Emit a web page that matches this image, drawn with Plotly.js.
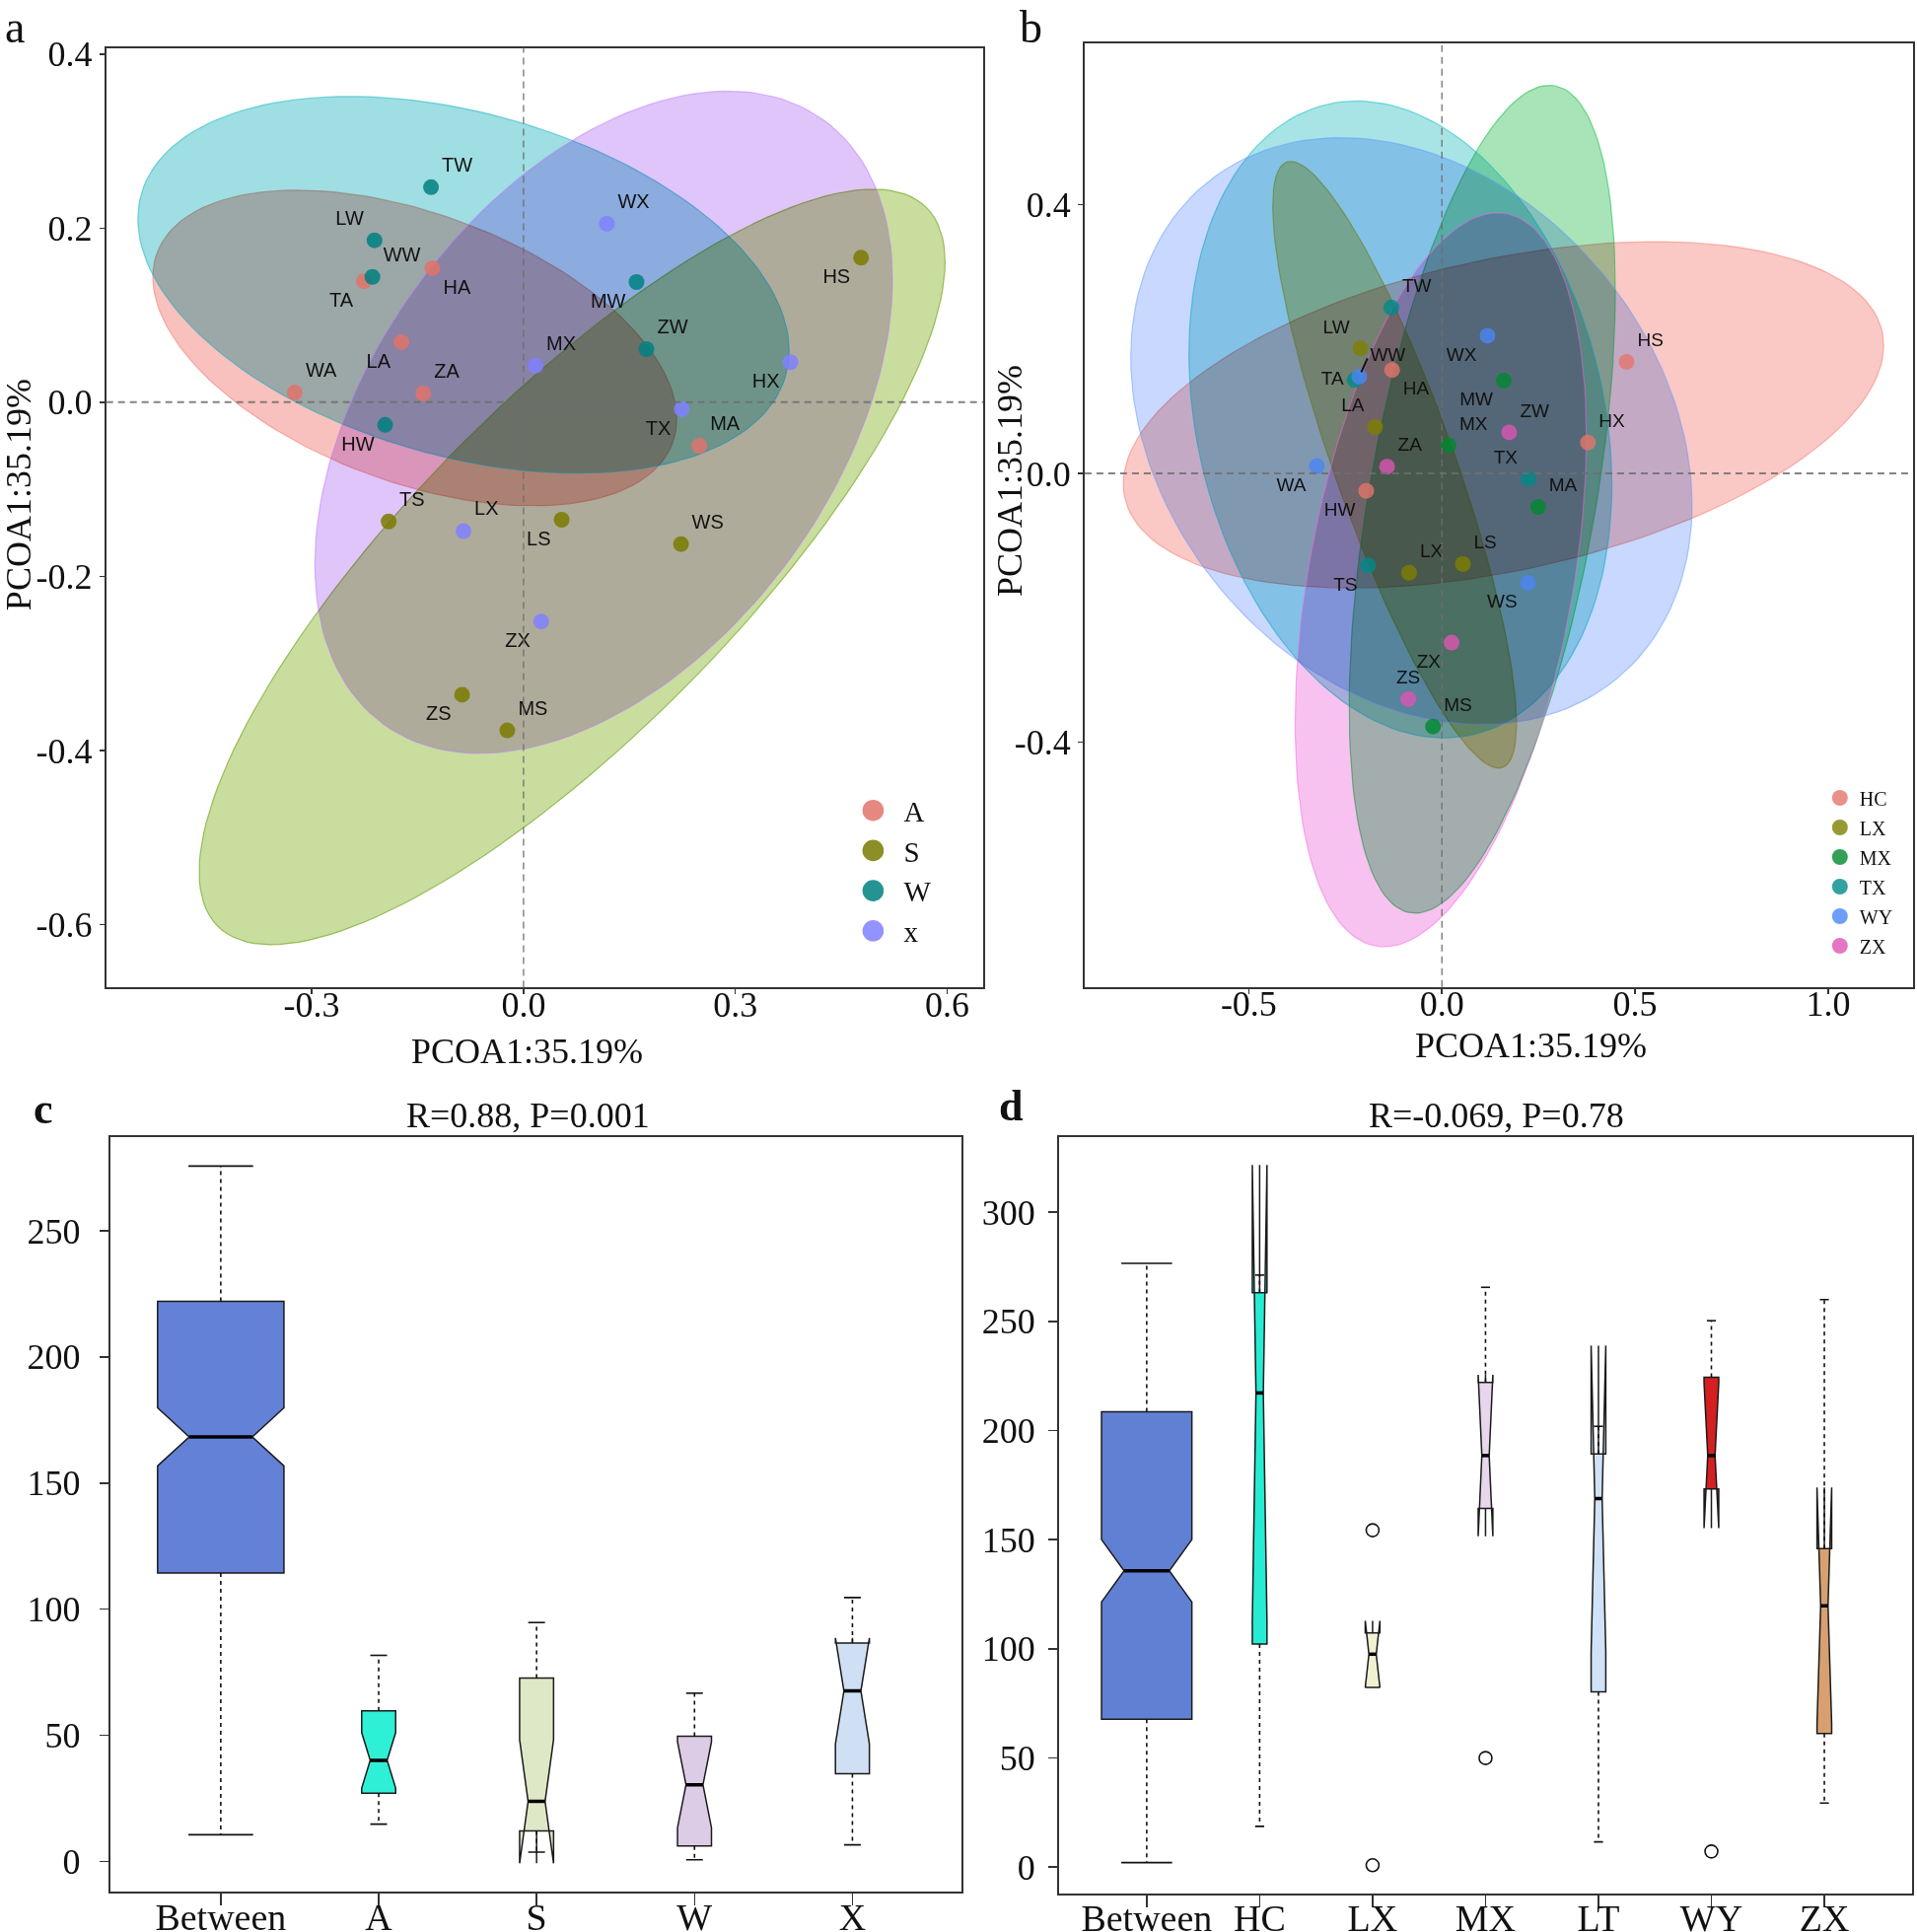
<!DOCTYPE html>
<html><head><meta charset="utf-8">
<script src="https://cdn.plot.ly/plotly-3.0.1.min.js"></script>
<style>body{margin:0;background:#fff}#chart{width:1944px;height:1959px}</style>
</head><body><div id="chart"></div>
<script>
// ---------------- DATA ----------------
// PCoA sample coordinates (shared by panels a and b)
const sampleNames = ['TW','WX','LW','WW','TA','HA','HS','MW','LA','ZW','MX','HX','WA','ZA','TX','HW','MA','TS','LX','LS','WS','ZX','ZS','MS'];
const pc1 = [-0.131,0.118,-0.211,-0.214,-0.226,-0.129,0.478,0.160,-0.173,0.174,0.017,0.378,-0.324,-0.142,0.224,-0.196,0.249,-0.191,-0.085,0.054,0.223,0.025,-0.087,-0.023];
const pc2 = [0.247,0.205,0.186,0.144,0.139,0.154,0.166,0.138,0.069,0.061,0.042,0.046,0.011,0.010,-0.008,-0.026,-0.050,-0.137,-0.148,-0.135,-0.163,-0.252,-0.336,-0.377];
const groupOfSampleA = ['W','X','W','W','A','A','S','W','A','W','X','X','A','A','X','W','A','S','X','S','S','X','S','S'];
const groupOfSampleB = ['TX','WY','LX','WY','TX','HC','HC','MX','LX','ZX','MX','HC','WY','ZX','TX','HC','MX','TX','LX','LX','WY','ZX','ZX','MX'];

// panel a groups and their ellipses (centre, half-extent x / y, correlation)
const groupsA = ['A','S','W','X'];
const groupLabelsA = ['A','S','W','x'];
const ellA_cx = [-0.154, 0.0688, -0.085, 0.1135];
const ellA_cy = [0.0623, -0.1892, 0.1349, -0.023];
const ellA_wx = [0.371, 0.5282, 0.4612, 0.409];
const ellA_wy = [0.1813, 0.434, 0.2164, 0.3804];
const ellA_r  = [-0.45, 0.807, -0.35, 0.43];

// panel b groups and their ellipses
const groupsB = ['HC','LX','MX','TX','WY','ZX'];
const groupLabelsB = ['HC','LX','MX','TX','WY','ZX'];
const ellB_cx = [0.1594, -0.1225, 0.1045, -0.1075, -0.079, -0.003];
const ellB_cy = [0.0872, 0.0128, -0.0385, 0.0803, 0.063, -0.1585];
const ellB_wx = [0.9844, 0.3155, 0.3445, 0.5475, 0.7266, 0.377];
const ellB_wy = [0.2578, 0.4518, 0.6165, 0.4743, 0.437, 0.5465];
const ellB_r  = [0.40, -0.853, 0.504, -0.206, -0.252, 0.39];

// tick labels
const aXTicks = [-0.3, 0, 0.3, 0.6], aXText = ['-0.3','0.0','0.3','0.6'];
const aYTicks = [-0.6,-0.4,-0.2,0,0.2,0.4], aYText = ['-0.6','-0.4','-0.2','0.0','0.2','0.4'];
const bXTicks = [-0.5, 0, 0.5, 1.0], bXText = ['-0.5','0.0','0.5','1.0'];
const bYTicks = [-0.4, 0, 0.4], bYText = ['-0.4','0.0','0.4'];

// panel c: ANOSIM distance ranks
const catsC = ['Between','A','S','W','X'];
const c_q1  = [114.3, 27.1, 12.1, 6.2, 34.8];
const c_med = [168.3, 40.1, 23.8, 30.4, 67.6];
const c_q3  = [222.0, 59.7, 72.7, 49.6, 86.6];
const c_lo  = [10.6, 14.8, 3.7, 0.7, 6.6];
const c_hi  = [275.6, 81.7, 94.7, 66.7, 104.6];
const c_notch = [11.5, 11, 24.5, 17, 21];
const c_yTicks = [0,50,100,150,200,250];

// panel d
const catsD = ['Between','HC','LX','MX','LT','WY','ZX'];
const d_q1  = [67.7, 102.1, 82.3, 164.3, 80.2, 173.2, 61.1];
const d_med = [135.7, 217.2, 97.5, 188.5, 168.8, 188.5, 119.7];
const d_q3  = [208.6, 263.1, 107.2, 222.0, 189.2, 224.4, 145.9];
const d_lo  = [2.0, 18.6, null, null, 11.5, null, 29.3];
const d_hi  = [276.6, 271.2, null, 265.6, 201.9, 250.3, 260.0];
const d_notch = [14.3, 104.4, 15.3, 37, 70.1, 33.2, 54.2];
const d_outCat = ['LX','LX','MX','WY'];
const d_outVal = [154.3, 0.8, 49.9, 7.1];
const d_yTicks = [0,50,100,150,200,250,300];

// ---------------- STYLE ----------------
const SERIF = 'Liberation Serif, Times New Roman, serif';
const SANS = 'Liberation Sans, Arial, sans-serif';
const colA = {A:'#e0736b', S:'#7a7a00', W:'#008080', X:'#8080ff'};
const fillA = {A:'#f9c1bd', S:'#c8dd9e', W:'#9fdee2', X:'#e0c5fb'};
const lineA = {A:'rgba(240,120,110,0.55)', S:'rgba(120,170,40,0.7)', W:'rgba(0,180,190,0.5)', X:'rgba(190,120,255,0.5)'};
const colB = {HC:'#e4766a', LX:'#808000', MX:'#00882e', TX:'#008a8a', WY:'#4a86f5', ZX:'#dc55b4'};
const fillB = {HC:'#fac8c5', LX:'#e2d9a0', MX:'#a8e4b8', TX:'#a8e4e6', WY:'#c8d8ff', ZX:'#f8c2f0'};
const lineB = {HC:'rgba(248,118,109,0.5)', LX:'rgba(183,159,0,0.5)', MX:'rgba(0,186,56,0.5)', TX:'rgba(0,191,196,0.5)', WY:'rgba(97,156,255,0.5)', ZX:'rgba(245,100,227,0.5)'};
const posA = ['top right','top right','top left','top right','bottom left','bottom right','bottom left','bottom left','bottom left','top right','top right','bottom left','top right','top right','bottom left','bottom left','top right','top right','top right','bottom left','top right','bottom left','bottom left','top right'];
const posB = ['top right','bottom left','top left','top right','middle left','bottom right','top right','bottom left','top left','top right','top right','top right','bottom left','top right','top left','bottom left','top right','bottom left','top right','top right','bottom left','bottom left','top center','top right'];
const boxFillC = ['#6381d6','#2ef0d6','#dee8c6','#dccce6','#cfe0f5'];
const boxFillD = ['#6080d4','#26ecd4','#f2f0d2','#e8d6ec','#cfe2f6','#d42020','#d8a070'];

function ellipse(cx, cy, wx, wy, r) {
  const xs = [], ys = [], s = Math.sqrt(1 - r*r), N = 160;
  for (let k = 0; k <= N; k++) {
    const t = 2*Math.PI*k/N;
    xs.push(cx + wx*Math.cos(t));
    ys.push(cy + wy*(r*Math.cos(t) + s*Math.sin(t)));
  }
  return {xs, ys};
}

const traces = [];
groupsA.forEach((g, i) => {
  const e = ellipse(ellA_cx[i], ellA_cy[i], ellA_wx[i], ellA_wy[i], ellA_r[i]);
  traces.push({type:'scatter', mode:'lines', x:e.xs, y:e.ys, xaxis:'x', yaxis:'y', fill:'toself',
    fillcolor:fillA[g], line:{color:lineA[g], width:1.2}, showlegend:false, hoverinfo:'skip'});
});
groupsB.forEach((g, i) => {
  const e = ellipse(ellB_cx[i], ellB_cy[i], ellB_wx[i], ellB_wy[i], ellB_r[i]);
  traces.push({type:'scatter', mode:'lines', x:e.xs, y:e.ys, xaxis:'x2', yaxis:'y2', fill:'toself',
    fillcolor:fillB[g], line:{color:lineB[g], width:1.2}, showlegend:false, hoverinfo:'skip'});
});
groupsA.forEach((g, i) => {
  const idx = sampleNames.map((n, k) => k).filter(k => groupOfSampleA[k] === g);
  traces.push({type:'scatter', mode:'markers+text', xaxis:'x', yaxis:'y',
    x: idx.map(k => pc1[k]), y: idx.map(k => pc2[k]), text: idx.map(k => sampleNames[k]),
    textposition: idx.map(k => posA[k]), textfont:{family:SANS, size:20, color:'#111'},
    marker:{color:colA[g], size:16, opacity:0.85}, name:groupLabelsA[i], legend:'legend',
    legendgroup:'a'+g, hoverinfo:'skip', cliponaxis:false});
});
groupsB.forEach((g, i) => {
  const idx = sampleNames.map((n, k) => k).filter(k => groupOfSampleB[k] === g);
  traces.push({type:'scatter', mode:'markers+text', xaxis:'x2', yaxis:'y2',
    x: idx.map(k => pc1[k]), y: idx.map(k => pc2[k]), text: idx.map(k => sampleNames[k]),
    textposition: idx.map(k => posB[k]), textfont:{family:SANS, size:19, color:'#111'},
    marker:{color:colB[g], size:16, opacity:0.8}, name:groupLabelsB[i], legend:'legend2',
    legendgroup:'b'+g, hoverinfo:'skip', cliponaxis:false});
});

function addBoxes(cats, q1, med, q3, lo, hi, notch, fills, xa, ya, bigW, smallW, bigStaple, smallStaple) {
  const wx = [], wy = [], sx = [], sy = [], mx = [], my = [];
  cats.forEach((c, i) => {
    const w = i === 0 ? bigW : smallW;
    traces.push({type:'box', xaxis:xa, yaxis:ya, x:[i], q1:[q1[i]], median:[med[i]], q3:[q3[i]],
      lowerfence:[q1[i]], upperfence:[q3[i]], notchspan:[notch[i]], notched:true, notchwidth:0.25,
      width:w, whiskerwidth:0, boxpoints:false, fillcolor:fills[i], line:{color:'#1a1a1a', width:1.5},
      showlegend:false, hoverinfo:'skip'});
    const st = (i === 0 ? bigStaple : smallStaple) / 2;
    if (hi[i] !== null) { wx.push(i, i, null); wy.push(q3[i], hi[i], null); sx.push(i-st, i+st, null); sy.push(hi[i], hi[i], null); }
    if (lo[i] !== null) { wx.push(i, i, null); wy.push(q1[i], lo[i], null); sx.push(i-st, i+st, null); sy.push(lo[i], lo[i], null); }
    mx.push(i - w*0.25, i + w*0.25, null); my.push(med[i], med[i], null);
  });
  traces.push({type:'scatter', mode:'lines', xaxis:xa, yaxis:ya, x:wx, y:wy, line:{color:'#111', width:1.6, dash:'4px,4px'}, showlegend:false, hoverinfo:'skip'});
  traces.push({type:'scatter', mode:'lines', xaxis:xa, yaxis:ya, x:sx, y:sy, line:{color:'#111', width:1.6}, showlegend:false, hoverinfo:'skip'});
  traces.push({type:'scatter', mode:'lines', xaxis:xa, yaxis:ya, x:mx, y:my, line:{color:'#000', width:3.5}, showlegend:false, hoverinfo:'skip'});
}
addBoxes(catsC, c_q1, c_med, c_q3, c_lo, c_hi, c_notch, boxFillC, 'x3', 'y3', 0.8, 0.215, 0.41, 0.106);
addBoxes(catsD, d_q1, d_med, d_q3, d_lo, d_hi, d_notch, boxFillD, 'x4', 'y4', 0.8, 0.13, 0.45, 0.08);
traces.push({type:'scatter', mode:'markers', xaxis:'x4', yaxis:'y4', x:d_outCat.map(c => catsD.indexOf(c)), y:d_outVal,
  marker:{symbol:'circle-open', size:13, color:'#111', line:{width:1.6}}, showlegend:false, hoverinfo:'skip'});

// ---------------- LAYOUT ----------------
const baseAxis = {ticks:'outside', tickcolor:'#333', tickwidth:1.5, showline:true, mirror:true, linecolor:'#333',
  linewidth:2, showgrid:false, zeroline:false, tickfont:{family:SERIF, size:36, color:'#111'}, tickmode:'array'};
const ax = o => Object.assign({}, baseAxis, o);

const zeroLine = (xr, yr, horiz) => horiz
  ? {type:'line', xref:xr+' domain', yref:yr, x0:0, x1:1, y0:0, y1:0, layer:'above', line:{color:'rgba(110,110,110,0.85)', width:2, dash:'7px,5px'}}
  : {type:'line', xref:xr, yref:yr+' domain', x0:0, x1:0, y0:0, y1:1, layer:'above', line:{color:'rgba(110,110,110,0.85)', width:1.5, dash:'7px,5px'}};

const ann = (text, x, y, size, opts) => Object.assign({text, x, y, xref:'paper', yref:'paper', showarrow:false,
  font:{family:SERIF, size, color:'#111'}, xanchor:'center', yanchor:'middle'}, opts || {});

const iWW = sampleNames.indexOf('WW');

const layout = {
  width:1944, height:1959, margin:{l:0, r:0, t:0, b:0},
  paper_bgcolor:'#fff', plot_bgcolor:'#fff', showlegend:true, boxmode:'overlay',
  font:{family:SERIF, color:'#111'},
  xaxis: ax({domain:[0.0554,0.5129], range:[-0.591,0.651], anchor:'y', tickvals:aXTicks, ticktext:aXText, ticklen:5, ticklabelstandoff:-21}),
  yaxis: ax({domain:[0.4888,0.9752], range:[-0.6725,0.407], anchor:'x', tickvals:aYTicks, ticktext:aYText, ticklen:5, ticklabelstandoff:0}),
  xaxis2: ax({domain:[0.5658,0.998], range:[-0.925,1.22], anchor:'y2', tickvals:bXTicks, ticktext:bXText, ticklen:5, ticklabelstandoff:-21}),
  yaxis2: ax({domain:[0.4891,0.9776], range:[-0.765,0.6405], anchor:'x2', tickvals:bYTicks, ticktext:bYText, ticklen:5, ticklabelstandoff:0}),
  xaxis3: ax({domain:[0.0575,0.5015], range:[-0.70,4.69], anchor:'y3', tickvals:catsC.map((c,i)=>i), ticktext:catsC, ticklen:12, ticklabelstandoff:-21, tickfont:{family:SERIF, size:38, color:'#111'}}),
  yaxis3: ax({domain:[0.0207,0.4113], range:[-12.1,287], anchor:'x3', tickvals:c_yTicks, ticktext:c_yTicks.map(String), ticklen:9, ticklabelstandoff:12}),
  xaxis4: ax({domain:[0.5524,0.9975], range:[-0.777,6.778], anchor:'y4', tickvals:catsD.map((c,i)=>i), ticktext:catsD, ticklen:12, ticklabelstandoff:-21, tickfont:{family:SERIF, size:38, color:'#111'}}),
  yaxis4: ax({domain:[0.0201,0.4113], range:[-12,334.3], anchor:'x4', tickvals:d_yTicks, ticktext:d_yTicks.map(String), ticklen:9, ticklabelstandoff:6}),
  shapes: [zeroLine('x','y',true), zeroLine('x','y',false), zeroLine('x2','y2',true), zeroLine('x2','y2',false)],
  legend: {x:0.4395, y:0.5935, xanchor:'left', yanchor:'top', bgcolor:'rgba(0,0,0,0)', traceorder:'grouped', tracegroupgap:0,
    font:{family:SERIF, size:29, color:'#111'}, itemwidth:52},
  legend2: {x:0.9495, y:0.597, xanchor:'left', yanchor:'top', bgcolor:'rgba(0,0,0,0)', traceorder:'grouped', tracegroupgap:1,
    font:{family:SERIF, size:20, color:'#111'}, itemwidth:30},
  annotations: [
    ann('a', 0.0077, 0.9862, 46),
    ann('b', 0.5376, 0.9862, 46),
    ann('<b>c</b>', 0.0226, 0.4258, 44),
    ann('<b>d</b>', 0.5273, 0.4273, 44),
    ann('PCOA1:35.19%', 0.2752, 0.4558, 36),
    ann('PCOA1:35.19%', 0.7984, 0.4589, 36),
    ann('PCOA1:35.19%', 0.0098, 0.7437, 36, {textangle:-90}),
    ann('PCOA1:35.19%', 0.5267, 0.7514, 36, {textangle:-90}),
    ann('R=0.88, P=0.001', 0.2757, 0.4227, 36),
    ann('R=-0.069, P=0.78', 0.7807, 0.4227, 36),
    // ggrepel-style leader segment for the WW label in panel b
    {x:pc1[iWW], y:pc2[iWW], xref:'x2', yref:'y2', text:'', showarrow:true, arrowhead:0, arrowwidth:2,
     arrowcolor:'#111', ax:9, ay:-20, standoff:5}
  ]
};

Plotly.newPlot('chart', traces, layout, {staticPlot:true}).then(gd => {
  // ellipses overlap like translucent films: blend the fills multiplicatively
  gd.querySelectorAll('path.js-fill').forEach(p => {
    let el = p.parentNode;
    while (el && !(el.classList && el.classList.contains('cartesianlayer'))) {
      if (el.getAttribute && el.getAttribute('clip-path')) el.removeAttribute('clip-path');
      el = el.parentNode;
    }
    p.style.mixBlendMode = 'multiply';
  });
  // larger legend symbols in panel a (as in the original figure)
  gd.querySelectorAll('.legendpoints path.scatterpts').forEach(p => {
    if (p.getBoundingClientRect().left < 1000) {
      const t = p.getAttribute('transform') || '';
      p.setAttribute('transform', t + ' scale(1.35)');
    }
  });
});
</script></body></html>
